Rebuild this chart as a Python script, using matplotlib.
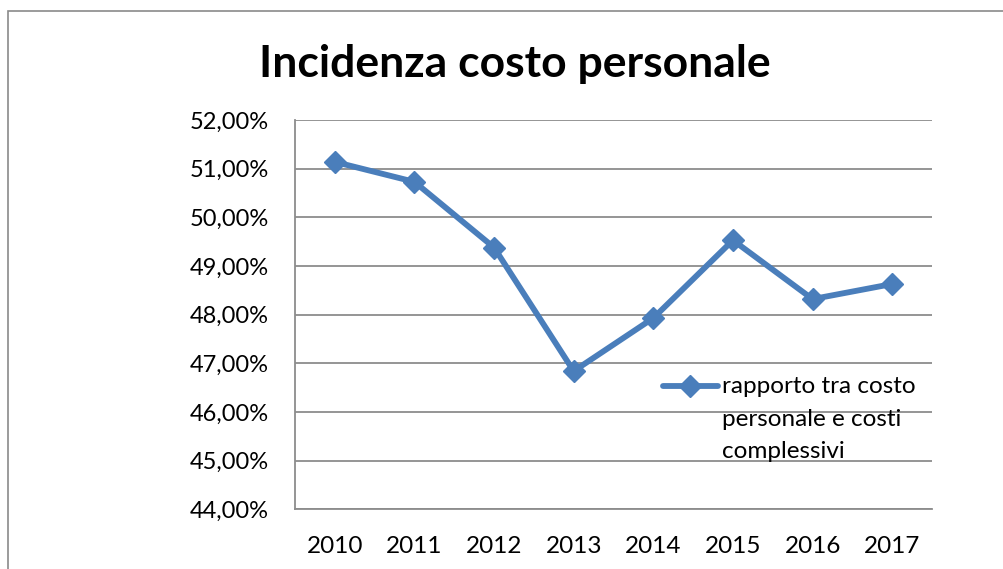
import matplotlib.pyplot as plt
from matplotlib.patches import Rectangle
from matplotlib.ticker import FuncFormatter

plt.rcParams['font.family'] = ['Lato', 'DejaVu Sans']

# dati
anni = ['2010', '2011', '2012', '2013', '2014', '2015', '2016', '2017']
incidenza = [51.14, 50.73, 49.38, 46.84, 47.93, 49.53, 48.32, 48.63]
etichetta = 'rapporto tra costo\npersonale e costi\ncomplessivi'
titolo = 'Incidenza costo personale'

blu = '#4a7ebb'
grigio = '#8c8c8c'

fig = plt.figure(figsize=(10.04, 5.69), dpi=100)
ax = fig.add_axes([0.2938, 0.105, 0.6345, 0.684])

# cornice del grafico (tagliata a destra e in basso come nell'originale)
fig.patches.append(Rectangle((8 / 1004, -0.1), 1.2, 1 - 11 / 569 + 0.1,
                             transform=fig.transFigure, fill=False,
                             edgecolor='#8a8a8a', linewidth=1.2))

x = list(range(len(anni)))
ax.plot(x, incidenza, color=blu, linewidth=4.2, marker='D', markersize=11,
        label=etichetta)

ax.set_xlim(-0.5, len(anni) - 0.5)
ax.set_ylim(44, 52)
ax.set_yticks(range(44, 53))
ax.yaxis.set_major_formatter(FuncFormatter(lambda v, p: f'{v:.2f}%'.replace('.', ',')))
ax.set_xticks(x)
ax.set_xticklabels(anni)
ax.tick_params(axis='y', length=0, labelsize=17, pad=19)
ax.tick_params(axis='x', length=0, labelsize=17.5, pad=19)

ax.grid(axis='y', color=grigio, linewidth=1.3)
ax.set_axisbelow(True)
for s in ['top', 'right']:
    ax.spines[s].set_visible(False)
for s in ['left', 'bottom']:
    ax.spines[s].set_color(grigio)
    ax.spines[s].set_linewidth(1.3)

fig.text(0.513, 0.888, titolo, ha='center', va='center', fontsize=32,
         fontweight='bold')

# legenda: simbolo allineato alla prima riga del testo, come in Excel
ly = (509.3 - 386) / (509.3 - 120)
ly_testo = (509.3 - 376) / (509.3 - 120)
lx0 = (663 - 295) / (932 - 295)
lx1 = (718 - 295) / (932 - 295)
ax.plot([lx0, lx1], [ly, ly], transform=ax.transAxes, color=blu,
        linewidth=4.2, clip_on=False, solid_capstyle='round')
ax.plot([(lx0 + lx1) / 2], [ly], transform=ax.transAxes, color=blu,
        marker='D', markersize=11, clip_on=False)
ax.text((722 - 295) / (932 - 295), ly_testo, etichetta, transform=ax.transAxes,
        fontsize=17.5, ha='left', va='top', linespacing=1.68,
        color='black')

fig.savefig('out.png', dpi=100)
